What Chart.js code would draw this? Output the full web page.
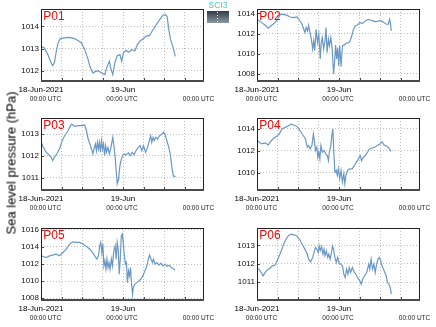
<!DOCTYPE html>
<html><head><meta charset="utf-8">
<script src="https://cdn.jsdelivr.net/npm/chart.js@4/dist/chart.umd.min.js"></script>
<style>
html,body{margin:0;padding:0;background:#fff;}
body{width:436px;height:327px;position:relative;overflow:hidden;font-family:"Liberation Sans",Arial,sans-serif;}
canvas.cv{position:absolute;}
#ytitle{position:absolute;left:10.5px;top:163px;transform:translate(-50%,-50%) rotate(-90deg);font-size:13px;font-weight:normal;white-space:nowrap;color:#000;font-family:"Liberation Sans",Arial,sans-serif;}
#logo{position:absolute;left:207px;top:0;width:22px;height:23px;}
#logo .t{font-size:8.5px;line-height:10px;color:#3cc8dc;text-align:center;letter-spacing:0;}
#logo .b{position:absolute;left:0;top:11px;width:22px;height:12px;background:linear-gradient(#2e3a44,#8c9aa4);}
#logo .b i{position:absolute;left:10px;top:1px;width:1px;height:10px;background:repeating-linear-gradient(#fff 0 1px,transparent 1px 3px);}
</style></head><body>
<canvas id="c1" class="cv" style="left:0;top:0;width:216px;height:105px" width="216" height="105"></canvas>
<canvas id="c2" class="cv" style="left:216px;top:0;width:220px;height:105px" width="220" height="105"></canvas>
<canvas id="c3" class="cv" style="left:0;top:109px;width:216px;height:105px" width="216" height="105"></canvas>
<canvas id="c4" class="cv" style="left:216px;top:109px;width:220px;height:105px" width="220" height="105"></canvas>
<canvas id="c5" class="cv" style="left:0;top:219px;width:216px;height:105px" width="216" height="105"></canvas>
<canvas id="c6" class="cv" style="left:216px;top:219px;width:220px;height:105px" width="220" height="105"></canvas>
<div id="ytitle">Sea level pressure (hPa)</div>
<div id="logo"><div class="t">SCI3</div><div class="b"><i></i></div></div>
<script>
// ---- data (hours since 18-Jun-2021 00:00 UTC, pressure in hPa) ----
const panelNames = ['P01','P02','P03','P04','P05','P06'];
const dateTickHours = [0, 24, 48];
const dateLabels = ['18-Jun-2021', '19-Jun', ''];
const timeLabels = ['00:00 UTC', '00:00 UTC', '00:00 UTC'];

const p01Hours = [0,1.0,2.0,3.0,3.4,3.9,4.4,4.9,5.6,6.9,8.4,9.8,10.8,11.8,12.8,13.8,14.3,15.2,15.7,16.7,17.7,18.7,19.2,20.0,20.4,21.0,21.6,22.3,23.1,23.6,24.1,24.9,25.6,26.6,27.5,28.2,29.0,30.0,30.8,31.8,32.5,33.4,34.4,35.1,35.7,36.4,36.9,37.4,37.9,38.7,39.3];
const p01Pressure = [1013.1,1013.03,1012.73,1012.35,1012.23,1012.35,1012.8,1013.2,1013.45,1013.48,1013.5,1013.45,1013.36,1013.26,1012.95,1012.5,1012.2,1011.9,1011.95,1012.0,1011.9,1011.83,1012.13,1012.43,1012.13,1011.83,1012.35,1012.68,1012.73,1012.43,1012.8,1012.92,1012.83,1012.95,1012.9,1013.18,1013.33,1013.45,1013.56,1013.59,1013.78,1014.0,1014.23,1014.38,1014.5,1014.53,1014.45,1013.86,1013.4,1013.03,1012.65];

const p02Hours = [0,1.4,2.4,3.3,4.3,5.3,6.3,6.8,7.8,8.8,9.7,10.7,11.7,12.4,13.2,14.0,14.4,14.8,15.1,15.5,15.9,16.3,16.6,16.9,17.3,17.7,18.1,18.5,18.8,19.1,19.5,19.9,20.2,20.5,20.9,21.2,21.6,22.0,22.4,22.7,23.0,23.3,23.6,23.9,24.2,24.6,25.0,25.5,26.2,27.0,27.6,28.1,28.7,29.4,30.1,30.9,31.7,32.5,33.2,34.0,34.8,35.6,36.4,37.2,37.8,38.4,38.8,39.0,39.3];
const p02Pressure = [1013.41,1013.08,1012.82,1012.52,1012.82,1013.08,1013.57,1013.9,1013.9,1013.8,1013.64,1013.57,1013.64,1013.34,1012.92,1012.1,1012.59,1012.26,1012.82,1012.1,1011.44,1010.46,1011.28,1010.3,1012.43,1011.11,1011.93,1009.48,1011.11,1011.6,1010.46,1011.28,1012.59,1010.13,1011.44,1010.79,1011.6,1010.46,1008.0,1009.15,1010.85,1009.48,1010.62,1008.82,1010.79,1008.75,1010.79,1010.85,1011.05,1011.11,1011.6,1012.26,1012.75,1012.85,1013.08,1013.02,1013.25,1013.41,1013.34,1013.25,1013.15,1013.25,1013.25,1013.08,1012.92,1012.92,1013.41,1013.08,1012.26];

const p03Hours = [0,0.7,1.5,2.3,3.0,3.4,3.9,4.6,5.4,6.2,6.9,7.9,8.6,9.0,9.8,10.8,11.8,12.8,13.3,13.8,14.3,14.8,15.2,15.5,15.9,16.2,16.5,16.8,17.1,17.4,17.7,18.0,18.3,18.6,18.9,19.2,19.6,20.0,20.4,21.0,21.4,21.7,22.0,22.3,22.7,23.1,23.5,23.9,24.3,24.9,25.6,26.1,26.7,27.2,27.8,28.5,29.0,29.5,30.0,30.6,31.2,31.7,32.1,32.4,32.8,33.1,33.6,34.1,34.7,35.4,35.9,36.3,36.7,37.1,37.5,37.9,38.3,38.7,39.0,39.4];
const p03Pressure = [1012.65,1012.39,1012.17,1012.05,1011.94,1011.79,1011.94,1012.09,1012.32,1012.7,1012.92,1013.15,1013.38,1013.45,1013.35,1013.38,1013.38,1013.41,1013.15,1012.77,1012.55,1012.32,1012.09,1012.32,1012.55,1012.24,1012.62,1012.32,1012.62,1012.17,1012.7,1012.32,1012.55,1012.02,1012.47,1012.17,1012.39,1012.09,1012.32,1012.85,1012.39,1011.94,1011.33,1010.73,1010.95,1011.56,1011.86,1012.02,1012.09,1012.05,1012.14,1012.02,1012.17,1012.05,1012.24,1012.39,1012.47,1012.24,1012.47,1012.17,1012.39,1012.7,1012.92,1012.62,1012.85,1012.7,1012.85,1012.77,1012.92,1013.0,1013.08,1013.0,1012.77,1012.55,1012.32,1012.02,1011.48,1011.11,1011.06,1011.08];

const p04Hours = [0,0.6,1.4,2.4,3.3,3.8,4.8,5.8,6.5,7.3,8.3,9.2,10.0,10.7,11.7,12.4,13.2,14.2,14.7,15.1,15.6,16.1,16.5,16.8,17.1,17.5,17.8,18.1,18.4,18.7,19.1,19.6,20.1,20.6,20.9,21.2,21.6,21.9,22.2,22.5,22.8,23.2,23.5,23.8,24.2,24.6,25.0,25.4,25.7,26.0,26.5,27.1,27.9,28.5,29.1,29.7,30.2,30.6,31.1,31.7,32.3,32.9,33.6,34.4,35.2,36.0,36.6,37.2,38.0,38.8,39.2];
const p04Pressure = [1013.01,1012.77,1012.62,1012.71,1012.53,1012.77,1013.13,1013.31,1013.52,1013.97,1014.12,1014.27,1014.42,1014.33,1014.21,1013.91,1013.52,1013.07,1012.32,1012.47,1012.17,1012.53,1013.52,1012.92,1012.02,1012.32,1011.42,1011.87,1011.27,1012.47,1011.87,1012.02,1011.72,1011.57,1011.12,1011.93,1012.47,1013.37,1013.97,1011.72,1010.07,1010.22,1009.77,1010.37,1009.47,1010.22,1009.17,1009.92,1009.02,1009.77,1010.22,1010.37,1010.37,1010.67,1010.97,1011.27,1011.57,1011.12,1011.42,1011.57,1011.87,1012.17,1012.23,1012.32,1012.47,1012.62,1012.83,1012.53,1012.41,1012.17,1011.93];

const p05Hours = [0,0.7,1.5,2.5,3.4,4.4,5.4,6.4,7.4,8.4,9.3,10.3,11.3,12.3,13.3,14.3,15.2,16.0,16.4,16.8,17.2,17.5,17.8,18.1,18.4,18.7,19.0,19.3,19.6,19.9,20.2,20.6,20.9,21.3,21.7,22.0,22.3,22.6,22.9,23.2,23.5,23.8,24.1,24.4,24.7,25.0,25.3,25.6,25.9,26.2,26.5,26.8,27.0,27.4,28.0,28.6,29.2,29.8,30.4,31.0,31.4,31.8,32.2,32.6,32.9,33.4,33.9,34.5,35.1,35.7,36.3,36.9,37.5,38.1,38.7,39.2];
const p05Pressure = [1012.95,1012.88,1012.76,1012.95,1013.03,1013.15,1012.95,1013.34,1013.73,1014.32,1014.59,1014.52,1014.52,1014.32,1014.05,1013.73,1013.27,1012.76,1012.56,1012.95,1014.13,1014.52,1013.34,1014.32,1011.78,1012.37,1011.39,1012.56,1011.59,1012.17,1011.39,1012.56,1011.78,1013.54,1014.13,1012.56,1014.52,1013.73,1010.8,1012.56,1015.3,1015.49,1014.32,1012.95,1011.98,1012.17,1009.83,1011.2,1010.61,1011.59,1009.63,1008.46,1009.24,1009.63,1009.83,1010.02,1010.22,1010.61,1011.2,1011.78,1012.56,1013.03,1012.56,1012.17,1012.56,1011.98,1012.17,1011.86,1012.09,1011.78,1011.98,1011.7,1011.86,1011.59,1011.47,1011.27];

const p06Hours = [0,0.6,1.2,1.8,2.4,3.0,3.7,4.5,5.3,5.9,6.5,7.1,7.8,8.5,9.2,10.0,10.8,11.6,12.4,13.2,14.0,14.7,15.1,15.7,16.3,16.7,17.1,17.5,17.9,18.2,18.5,18.9,19.3,19.6,19.9,20.3,20.7,21.0,21.4,21.8,22.1,22.4,22.8,23.2,23.6,24.0,24.5,25.0,25.4,25.8,26.2,26.6,27.0,27.4,27.9,28.5,29.1,29.7,30.1,30.5,30.9,31.5,32.1,32.7,33.0,33.4,33.8,34.2,34.6,35.0,35.4,35.8,36.2,36.6,37.0,37.4,37.8,38.2,38.6,39.0,39.3];
const p06Pressure = [1011.75,1011.71,1011.53,1011.35,1011.53,1011.67,1011.75,1011.89,1011.93,1012.16,1012.44,1012.71,1013.07,1013.35,1013.53,1013.62,1013.58,1013.53,1013.35,1013.07,1012.8,1012.53,1012.25,1012.11,1012.35,1012.62,1012.89,1012.8,1012.62,1012.98,1012.71,1012.94,1012.53,1012.8,1012.44,1012.71,1012.35,1012.53,1012.25,1012.62,1012.98,1012.8,1012.35,1012.07,1012.35,1012.07,1011.98,1011.89,1011.44,1011.25,1011.71,1011.44,1011.8,1011.53,1011.8,1011.53,1011.38,1011.16,1011.07,1010.89,1011.16,1011.35,1011.53,1011.98,1011.71,1012.25,1011.71,1011.98,1011.53,1011.98,1012.25,1012.35,1012.16,1011.89,1011.71,1011.53,1011.35,1010.98,1010.89,1010.71,1010.35];

// axis ranges per panel
const yMins  = [1011.54, 1007.3, 1010.45, 1008.45, 1007.8, 1010.03];
const yMaxs  = [1014.78, 1014.43, 1013.73, 1014.97, 1016.2, 1013.95];
const ySteps = [1, 2, 1, 2, 2, 1];
const X_MAX = 47.7;

// ---- styling ----
const FONT = '"Liberation Sans", Arial, sans-serif';
const LINE_COLOR = '#6a98c6';
const GRID_COLOR = '#bdbdbd';

const deco = {
  id: 'deco',
  afterDatasetsDraw(chart, args, opts) {
    const ctx = chart.ctx, ca = chart.chartArea, xs = chart.scales.x, ys = chart.scales.y;
    ctx.save();
    ctx.strokeStyle = '#444'; ctx.lineWidth = 1;
    ctx.beginPath();
    xs.ticks.forEach(t => { const px = Math.round(xs.getPixelForValue(t.value)) + 0.5; ctx.moveTo(px, ca.bottom); ctx.lineTo(px, ca.bottom - 3); });
    ys.ticks.forEach(t => { const py = Math.round(ys.getPixelForValue(t.value)) + 0.5; ctx.moveTo(ca.left, py); ctx.lineTo(ca.left + 3, py); });
    ctx.stroke();
    ctx.strokeStyle = '#222'; ctx.lineWidth = 1;
    ctx.strokeRect(ca.left + 0.5, ca.top + 0.5, ca.right - ca.left - 1, ca.bottom - ca.top - 1);
    ctx.strokeStyle = '#4a4a4a'; ctx.lineWidth = 2;
    ctx.beginPath(); ctx.moveTo(ca.left, ca.bottom); ctx.lineTo(ca.right, ca.bottom); ctx.stroke();
    ctx.fillStyle = '#ff0000';
    ctx.font = '12px ' + FONT;
    ctx.textAlign = 'left'; ctx.textBaseline = 'alphabetic';
    ctx.fillText(opts.name, ca.left + 2.3, ca.top + 11.2);
    ctx.restore();
  },
  afterDraw(chart) {
    const ctx = chart.ctx, ca = chart.chartArea, xs = chart.scales.x;
    const subOffsets = [4.5, -1, -6.5];
    ctx.save();
    ctx.fillStyle = '#000';
    ctx.textAlign = 'center'; ctx.textBaseline = 'middle';
    ctx.font = '8px ' + FONT;
    dateTickHours.forEach((h, i) => {
      if (dateLabels[i]) ctx.fillText(dateLabels[i], xs.getPixelForValue(h), ca.bottom + 8.6);
    });
    ctx.font = '6.5px ' + FONT;
    ctx.fillStyle = '#222';
    dateTickHours.forEach((h, i) => {
      ctx.fillText(timeLabels[i], xs.getPixelForValue(h) + subOffsets[i], ca.bottom + 18);
    });
    ctx.restore();
  }
};

const hoursList = [p01Hours, p02Hours, p03Hours, p04Hours, p05Hours, p06Hours];
const pressureList = [p01Pressure, p02Pressure, p03Pressure, p04Pressure, p05Pressure, p06Pressure];

panelNames.forEach((name, i) => {
  const isRight = i % 2 === 1;
  const step = ySteps[i];
  const hours = hoursList[i], pres = pressureList[i];
  new Chart(document.getElementById('c' + (i + 1)), {
    type: 'line',
    data: {
      datasets: [{
        data: hours.map((h, k) => ({ x: h, y: pres[k] })),
        borderColor: LINE_COLOR, borderWidth: 1.2, pointRadius: 0, tension: 0, fill: false
      }]
    },
    options: {
      responsive: false, animation: false, events: [],
      layout: { padding: { top: 9, right: isRight ? 16 : 12, left: 0, bottom: 0 } },
      plugins: { legend: { display: false }, tooltip: { enabled: false }, deco: { name } },
      scales: {
        x: {
          type: 'linear', min: 0, max: X_MAX,
          ticks: { display: false, stepSize: 6, includeBounds: false },
          grid: { color: GRID_COLOR, drawTicks: false, lineWidth: 1 },
          border: { display: false, dash: [1, 2] },
          afterBuildTicks(s) { s.ticks = s.ticks.filter(t => t.value > 0 && t.value % 6 === 0); },
          afterFit(s) { s.height = 24; }
        },
        y: {
          min: yMins[i], max: yMaxs[i],
          ticks: { stepSize: step, includeBounds: false, autoSkip: false, font: { size: 8, family: FONT }, color: '#111', padding: 2,
                   callback: v => String(Math.round(v)) },
          grid: { color: GRID_COLOR, drawTicks: false, lineWidth: 1 },
          border: { display: false, dash: [1, 2] },
          afterBuildTicks(s) { s.ticks = s.ticks.filter(t => Math.abs(t.value / step - Math.round(t.value / step)) < 1e-6); },
          afterFit(s) { s.width = 41; }
        }
      }
    },
    plugins: [deco]
  });
});
</script>
</body></html>
